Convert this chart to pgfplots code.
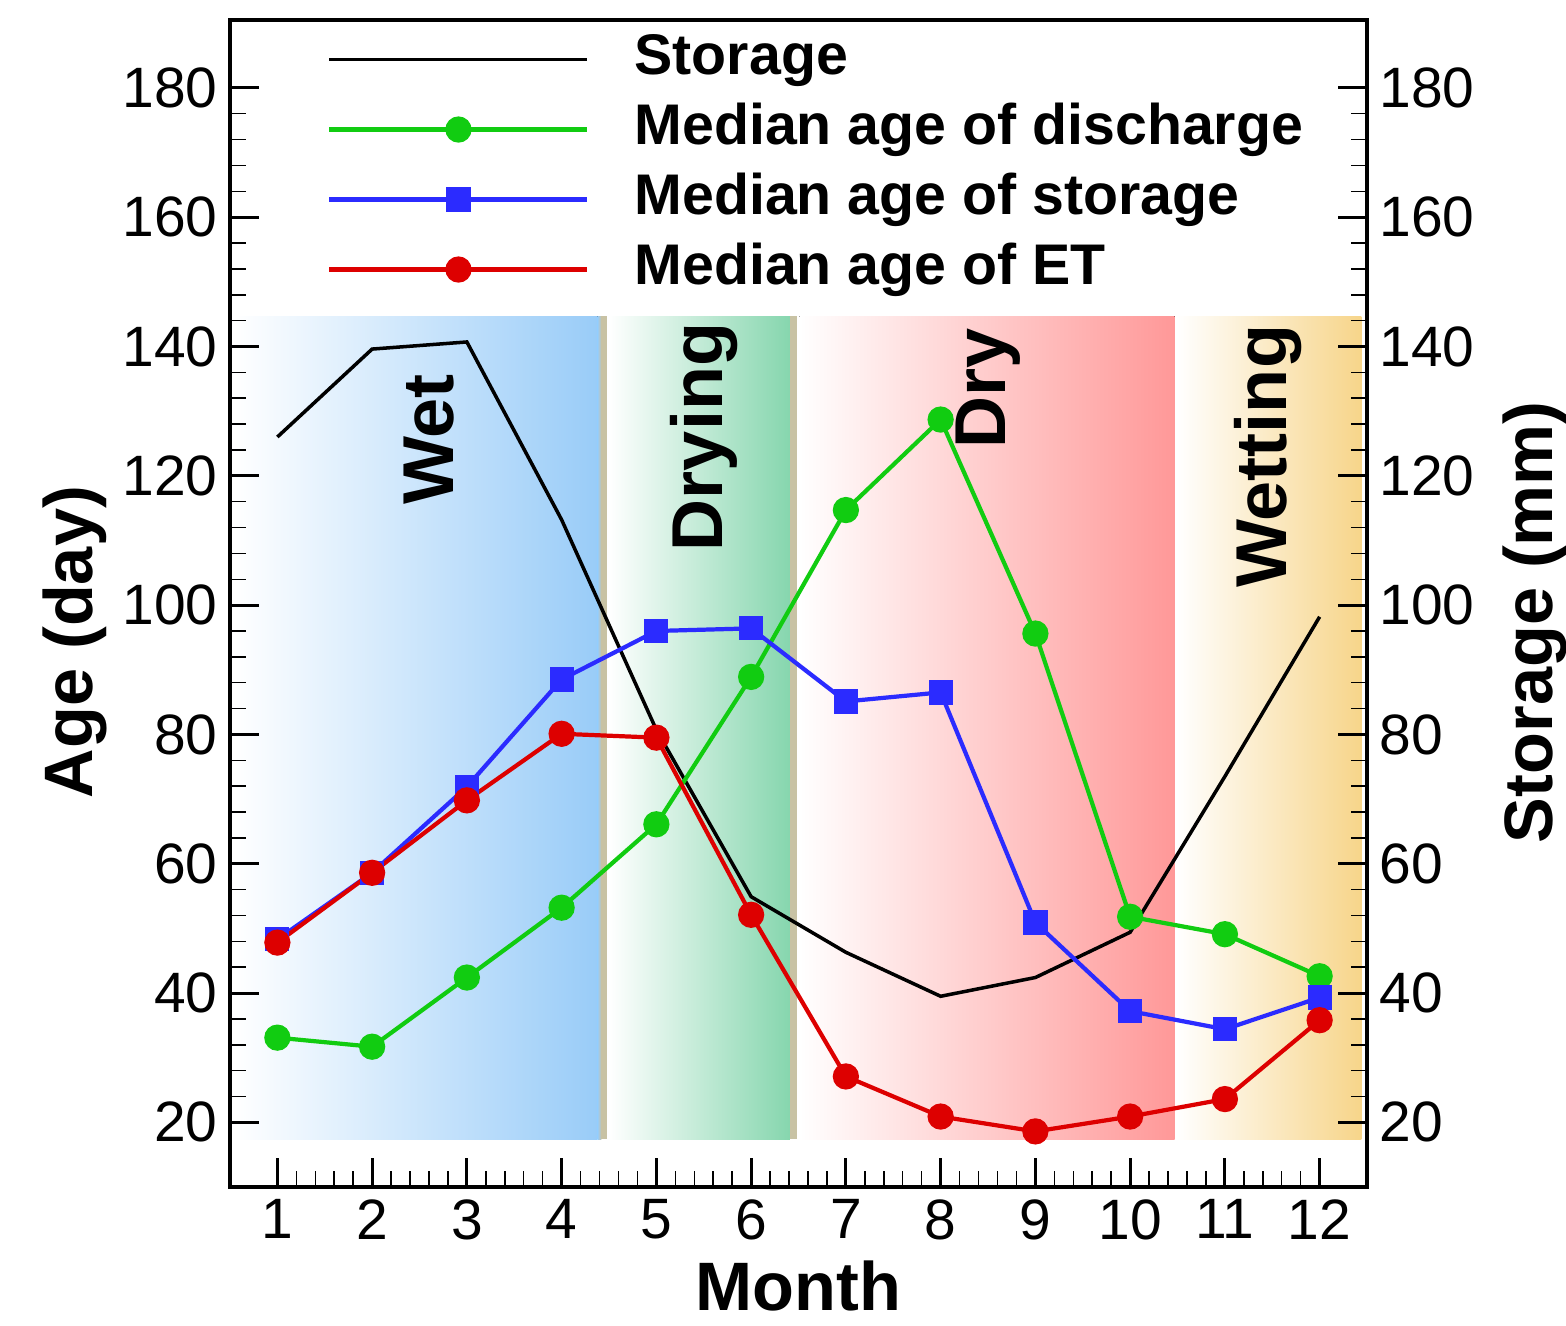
\documentclass[border=0pt]{standalone}
\usepackage{fontspec}
\setmainfont{Liberation Sans}
\usepackage{pgfplots}
\pgfplotsset{compat=1.18}

\definecolor{cgreen}{HTML}{11CC11}
\definecolor{cblue}{HTML}{2B2BFF}
\definecolor{cred}{HTML}{DD0000}
\definecolor{bwet}{HTML}{99CCF8}
\definecolor{bdrying}{HTML}{86D6AE}
\definecolor{bdry}{HTML}{FF9898}
\definecolor{bwetting}{HTML}{F7D58A}
\definecolor{btan}{HTML}{C8C2A4}

\pgfplotstableread{
m storage discharge agestorage et
1  126.0 33.1 48.3 47.8
2  139.6 31.7 58.6 58.6
3  140.7 42.4 71.9 69.8
4  113.2 53.2 88.5 80.1
5  80.7  66.1 96.0 79.5
6  54.9  88.9 96.4 52.1
7  46.3  114.7 85.1 27.1
8  39.5  128.7 86.5 20.9
9  42.4  95.6 50.9 18.6
10 49.4  51.8 37.2 20.9
11 73.5  49.1 34.4 23.6
12 98.2  42.6 39.3 35.8
}\data

\begin{document}
\begin{tikzpicture}
\begin{axis}[
 name=ax,
 width=113.7mm, height=116.7mm, scale only axis,
 xmin=0.5, xmax=12.5, ymin=10, ymax=190.5,
 xtick={1,...,12}, ytick={20,40,...,180},
 minor x tick num=4, minor y tick num=4,
 xtick pos=lower, ytick pos=both, yticklabel pos=left,
 tick align=inside,
 major tick length=2.9mm, minor tick length=1.6mm,
 major tick style={line width=0.3mm, black},
 minor tick style={line width=0.15mm, black},
 axis line style={line width=0.4mm},
 axis on top,
 /pgf/number format/assume math mode=true,
 tick label style={font=\fontsize{16.2}{16.2}\selectfont},
 xlabel={Month}, ylabel={Age (day)},
 label style={font=\bfseries\fontsize{19.5}{19.5}\selectfont},
 xlabel style={at={(rel axis cs:0.5,-0.085)}, anchor=center},
 ylabel style={at={(rel axis cs:-0.136,0.467)}, anchor=center},
 legend style={at={(rel axis cs:0.085,0.995)}, anchor=north west, draw=none, fill=none,
   inner sep=0pt, row sep=0.4mm,
   font=\bfseries\fontsize{16.3}{16.3}\selectfont,
   nodes={inner sep=0.5mm, text height=4.3mm, text depth=1.3mm},
   /tikz/every odd column/.append style={column sep=4mm}},
 legend cell align=left,
 legend image code/.code={\draw[mark repeat=2,mark phase=2,#1] plot coordinates {(0mm,0mm) (12.9mm,0mm) (25.8mm,0mm)};},
]
\fill[left color=white, right color=bwet] (axis cs:0.55,17.4) rectangle (axis cs:4.38,144.7);
\fill[left color=bwet, right color=btan] (axis cs:4.38,17.4) rectangle (axis cs:4.42,144.7);
\fill[btan] (axis cs:4.42,17.4) rectangle (axis cs:4.48,144.7);
\fill[left color=white, right color=bdrying] (axis cs:4.5,17.4) rectangle (axis cs:6.41,144.7);
\fill[btan] (axis cs:6.41,17.4) rectangle (axis cs:6.48,144.7);
\fill[left color=white, right color=bdry] (axis cs:6.51,17.4) rectangle (axis cs:10.47,144.7);
\fill[left color=white, right color=bwetting] (axis cs:10.49,17.4) rectangle (axis cs:12.44,144.7);

\addplot[black, line width=1pt] table[x=m, y=storage] {\data};
\addlegendentry{Storage}
\addplot[cgreen, line width=1.2pt, mark=*, mark size=1.1mm, mark options={solid, fill=cgreen, draw=cgreen}] table[x=m, y=discharge] {\data};
\addlegendentry{Median age of discharge}
\addplot[cblue, line width=1.2pt, mark=square*, mark size=1.0mm, mark options={solid, fill=cblue, draw=cblue}] table[x=m, y=agestorage] {\data};
\addlegendentry{Median age of storage}
\addplot[cred, line width=1.2pt, mark=*, mark size=1.1mm, mark options={solid, fill=cred, draw=cred}] table[x=m, y=et] {\data};
\addlegendentry{Median age of ET}

\node[rotate=90, font=\bfseries\fontsize{20.5}{20.5}\selectfont] at (axis cs:2.6,125.6) {Wet};
\node[rotate=90, font=\bfseries\fontsize{20.5}{20.5}\selectfont] at (axis cs:5.5,126) {Drying};
\node[rotate=90, font=\bfseries\fontsize{20.5}{20.5}\selectfont] at (axis cs:8.5,133.5) {Dry};
\node[rotate=90, font=\bfseries\fontsize{20.5}{20.5}\selectfont] at (axis cs:11.45,123) {Wetting};
\end{axis}
\begin{axis}[
 width=113.7mm, height=116.7mm, scale only axis,
 xmin=0.5, xmax=12.5, ymin=10, ymax=190.5,
 axis x line=none, axis y line*=right,
 ytick={20,40,...,180}, major tick length=0mm,
 axis line style={line width=0.4mm},
 /pgf/number format/assume math mode=true,
 tick label style={font=\fontsize{16.2}{16.2}\selectfont},
 ylabel={Storage (mm)},
 label style={font=\bfseries\fontsize{19.5}{19.5}\selectfont},
 ylabel style={at={(rel axis cs:1.148,0.484)}, anchor=center},
]
\end{axis}
\pgfresetboundingbox
\path[use as bounding box] ([xshift=-23mm,yshift=-13.8mm]ax.south west) rectangle ([xshift=19.9mm,yshift=2mm]ax.north east);
\end{tikzpicture}
\end{document}
